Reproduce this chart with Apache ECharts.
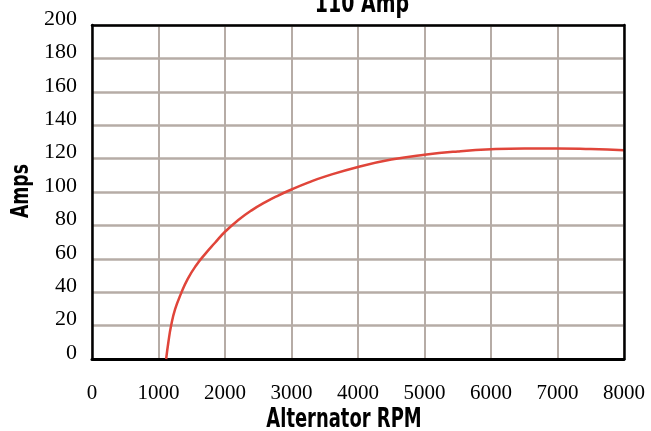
<!DOCTYPE html>
<html>
<head>
<meta charset="utf-8">
<script src="https://cdn.jsdelivr.net/npm/echarts@6/dist/echarts.min.js"></script>
<style>
html,body{margin:0;padding:0;background:#fff;}
#c{width:651px;height:431px;}
</style>
</head>
<body>
<div id="c"></div>
<script>
const titleText = '110 Amp';
const xAxisName = 'Alternator RPM';
const yAxisName = 'Amps';
const rpm  = [1115, 1150, 1190, 1250, 1340, 1440, 1565, 1700, 1850, 2000, 2200, 2400, 2600, 2800, 3000, 3250, 3500, 4000, 4500, 5000, 5500, 6000, 6500, 7000, 7500, 8000];
const amps = [0, 10.5, 20, 29.8, 39.3, 48, 56, 62.8, 69.6, 76.2, 83.2, 89, 93.8, 97.9, 101.5, 105.6, 109.2, 115, 119.4, 122.3, 124.3, 125.6, 126.1, 126.1, 125.7, 125];

const chart = echarts.init(document.getElementById('c'));
const boldFont = '"DejaVu Sans", sans-serif';
const serif = '"Liberation Serif", "DejaVu Serif", serif';
const gridColor = '#b6aca6';
chart.setOption({
  backgroundColor: '#fff',
  animation: false,
  grid: { left: 92, right: 27, top: 25, bottom: 72 },
  graphic: [
    { type: 'text', x: 362, y: 5, scaleX: 0.73,
      style: { text: titleText, fontFamily: boldFont, fontWeight: 'bold', fontSize: 26, fill: '#000', align: 'center', verticalAlign: 'middle' } },
    { type: 'text', x: 344, y: 420, scaleX: 0.69,
      style: { text: xAxisName, fontFamily: boldFont, fontWeight: 'bold', fontSize: 26, fill: '#000', align: 'center', verticalAlign: 'middle' } },
    { type: 'text', x: 22, y: 191, rotation: Math.PI / 2, scaleX: 0.72,
      style: { text: yAxisName, fontFamily: boldFont, fontWeight: 'bold', fontSize: 24, fill: '#000', align: 'center', verticalAlign: 'middle' } }
  ],
  xAxis: [{
    type: 'value', min: 0, max: 8000, interval: 1000, position: 'bottom',
    axisLine: { show: true, lineStyle: { color: '#000', width: 3 } },
    axisTick: { show: false },
    axisLabel: { margin: 24, fontFamily: serif, fontSize: 21, color: '#000', formatter: v => String(v) },
    splitLine: { show: true, lineStyle: { color: gridColor, width: 2 } }
  }, {
    type: 'value', min: 0, max: 8000, interval: 1000, position: 'top', z: 5,
    axisLine: { show: true, onZero: false, lineStyle: { color: '#000', width: 2.5 } },
    axisTick: { show: false }, axisLabel: { show: false }, splitLine: { show: false }
  }],
  yAxis: [{
    type: 'value', min: 0, max: 200, interval: 20, position: 'left',
    axisLine: { show: true, lineStyle: { color: '#000', width: 2.5 } },
    axisTick: { show: false },
    axisLabel: { margin: 15, fontFamily: serif, fontSize: 22, color: '#000', verticalAlign: 'bottom', lineHeight: 12 },
    splitLine: { show: true, lineStyle: { color: gridColor, width: 2.5 } }
  }, {
    type: 'value', min: 0, max: 200, interval: 20, position: 'right', z: 5,
    axisLine: { show: true, onZero: false, lineStyle: { color: '#000', width: 2.5 } },
    axisTick: { show: false }, axisLabel: { show: false }, splitLine: { show: false }
  }],
  series: [{
    type: 'line',
    data: rpm.map((r, i) => [r, amps[i]]),
    smooth: 0.5,
    showSymbol: false,
    lineStyle: { color: '#e0453a', width: 2.5 },
    z: 4
  }]
});
</script>
</body>
</html>
